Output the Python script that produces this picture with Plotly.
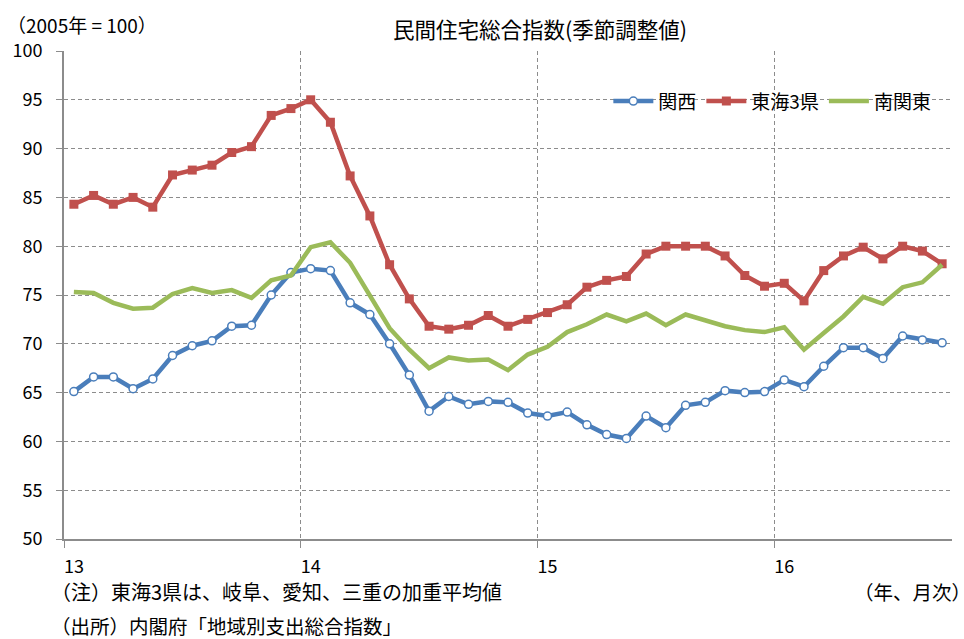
import plotly.graph_objects as go

# 民間住宅総合指数（季節調整値） 2013年1月～2016年9月, 2005年=100
kansai = [65.1, 66.6, 66.6, 65.4, 66.4, 68.8, 69.8, 70.3, 71.8, 71.9, 75.0, 77.3,
          77.7, 77.5, 74.2, 73.0, 70.0, 66.8, 63.1, 64.6, 63.8, 64.1, 64.0, 62.9,
          62.6, 63.0, 61.7, 60.7, 60.3, 62.6, 61.4, 63.7, 64.0, 65.2, 65.0, 65.1,
          66.3, 65.6, 67.7, 69.6, 69.6, 68.5, 70.8, 70.4, 70.1]
tokai = [84.3, 85.2, 84.3, 85.0, 84.0, 87.3, 87.8, 88.3, 89.6, 90.2, 93.4, 94.1,
         95.0, 92.7, 87.2, 83.1, 78.1, 74.6, 71.8, 71.5, 71.9, 72.9, 71.8, 72.5,
         73.2, 74.0, 75.8, 76.5, 76.9, 79.2, 80.0, 80.0, 80.0, 79.0, 77.0, 75.9,
         76.2, 74.4, 77.5, 79.0, 79.9, 78.7, 80.0, 79.5, 78.2]
minami_kanto = [75.3, 75.2, 74.2, 73.6, 73.7, 75.1, 75.7, 75.2, 75.5, 74.7, 76.5, 77.0,
                79.9, 80.4, 78.3, 75.0, 71.6, 69.4, 67.5, 68.6, 68.3, 68.4, 67.3, 68.9,
                69.7, 71.2, 72.0, 73.0, 72.3, 73.1, 71.9, 73.0, 72.4, 71.8, 71.4, 71.2,
                71.7, 69.4, 71.1, 72.8, 74.8, 74.1, 75.8, 76.3, 78.1]

year_labels = ["13", "14", "15", "16"]

months = list(range(len(kansai)))
jan_pos = months[::12]                       # 各年1月
year_bounds = [m - 0.5 for m in jan_pos]     # 年の区切り

font = "Noto Sans CJK JP"
grid = "#8c8c8c"

fig = go.Figure()

fig.add_trace(go.Scatter(x=months, y=kansai, name="関西", mode="lines+markers",
                         line=dict(color="#4a7ebb", width=4.5),
                         marker=dict(symbol="circle", size=8, color="white",
                                     line=dict(color="#4a7ebb", width=1.5))))
fig.add_trace(go.Scatter(x=months, y=tokai, name="東海3県", mode="lines+markers",
                         line=dict(color="#c0504d", width=4.5),
                         marker=dict(symbol="square", size=9, color="#c0504d")))
fig.add_trace(go.Scatter(x=months, y=minami_kanto, name="南関東", mode="lines",
                         line=dict(color="#9bbb59", width=4.5)))

fig.update_layout(
    width=964, height=639,
    margin=dict(l=57, r=12, t=51, b=100),
    paper_bgcolor="white", plot_bgcolor="white",
    font=dict(family=font, size=18, color="#000"),
    showlegend=True,
    legend=dict(orientation="h", x=0.613, y=0.897, xanchor="left", yanchor="middle",
                bgcolor="rgba(0,0,0,0)", font=dict(size=19), itemwidth=40,
                tracegroupgap=0),
)

fig.update_xaxes(
    range=[-0.5, len(kansai) - 0.5],
    tickmode="array", tickvals=jan_pos, ticktext=year_labels,
    ticks="", showgrid=False, zeroline=False,
    showline=True, linecolor=grid, linewidth=2,
    ticklabelstandoff=10, tickfont=dict(size=18),
    minor=dict(tickmode="array", tickvals=year_bounds, ticks="outside", ticklen=7,
               tickcolor=grid, tickwidth=1, showgrid=True, gridcolor=grid,
               griddash="4px,3px", gridwidth=1),
)
fig.update_yaxes(
    range=[50, 100], dtick=5, ticks="outside", ticklen=6, tickcolor=grid,
    showgrid=True, gridcolor=grid, griddash="4px,3px", gridwidth=1,
    zeroline=False, showline=True, linecolor=grid, linewidth=2,
    ticklabelstandoff=10, tickfont=dict(size=18),
)

fig.add_annotation(text="（2005年 = 100）", xref="paper", yref="paper", x=-0.066, y=1.055,
                   xanchor="left", yanchor="middle", showarrow=False, font=dict(size=19))
fig.add_annotation(text="民間住宅総合指数(季節調整値)", xref="paper", yref="paper",
                   x=0.536, y=1.047, xanchor="center", yanchor="middle",
                   showarrow=False, font=dict(size=21.5))
fig.add_annotation(text="（注）東海3県は、岐阜、愛知、三重の加重平均値", xref="paper",
                   yref="paper", x=-0.017, y=-0.108, xanchor="left", yanchor="middle",
                   showarrow=False, font=dict(size=20))
fig.add_annotation(text="（出所）内閣府「地域別支出総合指数」", xref="paper",
                   yref="paper", x=-0.017, y=-0.177, xanchor="left", yanchor="middle",
                   showarrow=False, font=dict(size=19.5))
fig.add_annotation(text="（年、月次）", xref="paper", yref="paper", x=0.887, y=-0.108,
                   xanchor="left", yanchor="middle", showarrow=False,
                   font=dict(size=19.5))

fig.write_html("out.html", config={"displayModeBar": False},
               post_script="document.body.style.margin='0';")
